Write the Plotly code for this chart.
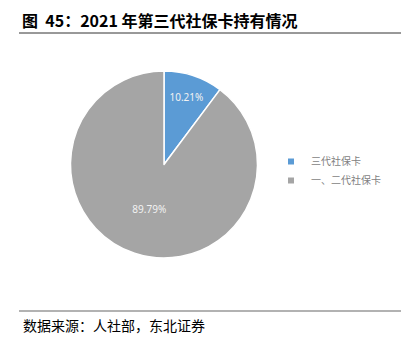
import plotly.graph_objects as go

labels = ["三代社保卡", "一、二代社保卡"]
values = [10.21, 89.79]
colors = ["#5B9BD5", "#A5A5A5"]

W, H = 409, 346

def px(x):
    return x / W

def py(y):
    return 1 - y / H

fig = go.Figure()
fig.add_trace(go.Pie(
    labels=labels,
    values=values,
    sort=False,
    direction="clockwise",
    rotation=0,
    marker=dict(colors=colors, line=dict(color="white", width=1.5)),
    texttemplate="%{value:.2f}%",
    textposition="inside",
    insidetextorientation="horizontal",
    textfont=dict(color="#F2F2F2", size=10, family="Noto Sans"),
    domain=dict(x=[px(70), px(258)], y=[py(258), py(71)]),
    hoverinfo="label+percent",
    showlegend=False,
))

# legend entries with small square markers
for lab, col in zip(labels, colors):
    fig.add_trace(go.Scatter(
        x=[None], y=[None], mode="markers", name=lab,
        marker=dict(symbol="square", size=6, color=col),
        showlegend=True,
    ))

fig.update_layout(
    width=W, height=H,
    margin=dict(l=0, r=0, t=0, b=0),
    paper_bgcolor="white",
    plot_bgcolor="white",
    xaxis=dict(visible=False),
    yaxis=dict(visible=False),
    showlegend=True,
    legend=dict(
        x=px(271), y=py(147), xanchor="left", yanchor="top",
        font=dict(size=10, color="#7F7F7F", family="Noto Sans CJK SC"),
        itemsizing="trace",
        itemwidth=30,
        tracegroupgap=0,
        bgcolor="rgba(0,0,0,0)",
    ),
    annotations=[
        dict(text="<b>图  45：2021 年第三代社保卡持有情况</b>", x=px(20), y=py(20),
             xref="paper", yref="paper", xanchor="left", yanchor="middle",
             showarrow=False, font=dict(size=16, color="black", family="Noto Sans CJK SC")),
        dict(text="数据来源：人社部，东北证券", x=px(21), y=py(325),
             xref="paper", yref="paper", xanchor="left", yanchor="middle",
             showarrow=False, font=dict(size=14, color="black", family="Noto Sans CJK SC")),
    ],
    shapes=[
        dict(type="line", xref="paper", yref="paper", x0=px(19), x1=px(401), y0=py(33), y1=py(33),
             line=dict(color="#333333", width=1)),
        dict(type="line", xref="paper", yref="paper", x0=px(19), x1=px(401), y0=py(311), y1=py(311),
             line=dict(color="#999999", width=1.5)),
    ],
)

fig.write_html("out.html")
